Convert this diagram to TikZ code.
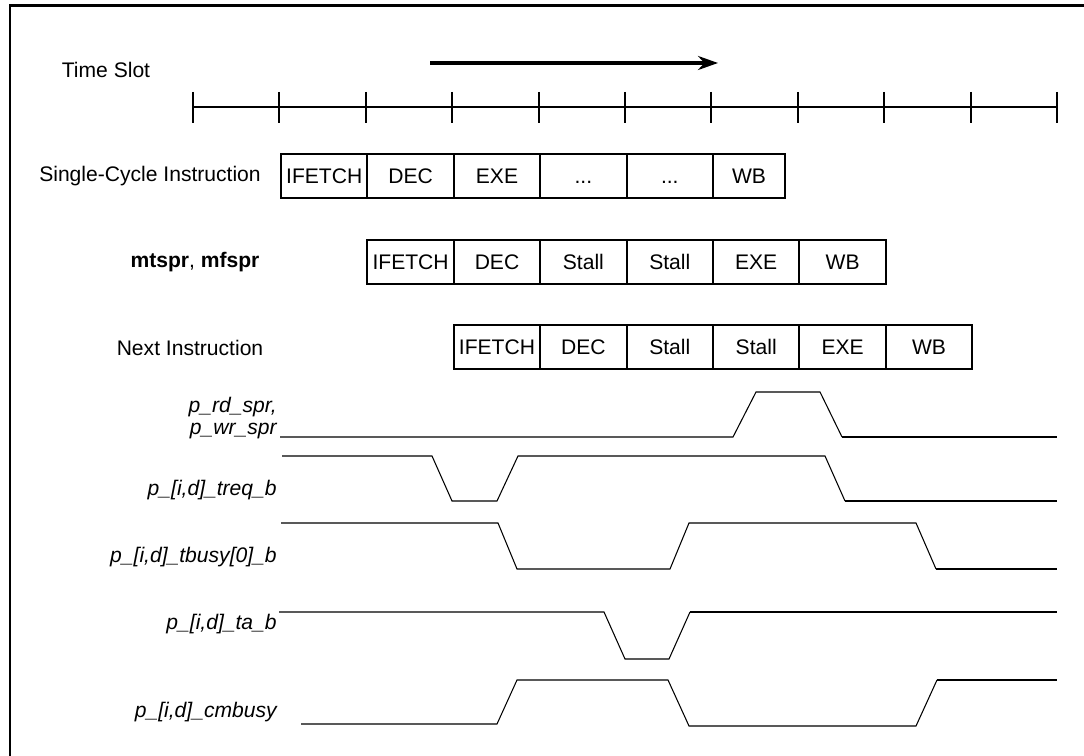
\documentclass[tikz,border=0pt]{standalone}
\usepackage{fontspec}
\setmainfont{Liberation Sans}
\usetikzlibrary{arrows.meta}
\tikzset{
  stage/.style={draw, line width=1.1pt, inner sep=0pt, minimum width=1.728cm,
                minimum height=0.88cm, text height=8.6pt, text depth=0pt,
                font=\fontsize{12}{14}\selectfont},
  rowlbl/.style={inner sep=0pt, font=\fontsize{12}{14}\selectfont},
  siglbl/.style={anchor=east, inner sep=0pt, align=right,
                 font=\fontsize{12}{12.6}\selectfont\itshape},
  sig/.style={line width=0.6pt},
  sigend/.style={line width=1.2pt},
  slottick/.style={line width=1.2pt},
}

\begin{document}
\begin{tikzpicture}[x=0.02cm, y=-0.02cm]
\useasboundingbox (0,0) rectangle (1084,756);
\draw[line width=1.7pt] (10,756) -- (10,6) -- (1084,6);

\node[rowlbl] (slot) at (106,70) {Time Slot};
\coordinate (t0) at (430,63);
\coordinate (t1) at (718,63);
\draw[line width=2pt, -{Stealth[length=0.4cm, width=0.28cm]}] (t0) -- (t1);
\draw[slottick] (193,107) -- (1057,107);
\foreach \k in {0,...,10}
  \draw[slottick] (193+86.4*\k,92) -- (193+86.4*\k,123);

\node[rowlbl] (single) at (150,176) {Single-Cycle Instruction};
\node[rowlbl] (mtspr)  at (195,262) {\textbf{mtspr}, \textbf{mfspr}};
\node[rowlbl] (next)   at (190,348) {Next Instruction};

\node[stage] (sc1) at (324.2,176) {IFETCH};
\node[stage] (sc2) at (410.6,176) {DEC};
\node[stage] (sc3) at (497,176)   {EXE};
\node[stage] (sc4) at (583.4,176) {...};
\node[stage] (sc5) at (669.8,176) {...};
\node[stage, minimum width=1.44cm] (sc6) at (749,176) {WB};

\node[stage] (mt1) at (410.6,262) {IFETCH};
\node[stage] (mt2) at (497,262)   {DEC};
\node[stage] (mt3) at (583.4,262) {Stall};
\node[stage] (mt4) at (669.8,262) {Stall};
\node[stage] (mt5) at (756.2,262) {EXE};
\node[stage] (mt6) at (842.6,262) {WB};

\node[stage] (nx1) at (497,347)   {IFETCH};
\node[stage] (nx2) at (583.4,347) {DEC};
\node[stage] (nx3) at (669.8,347) {Stall};
\node[stage] (nx4) at (756.2,347) {Stall};
\node[stage] (nx5) at (842.6,347) {EXE};
\node[stage] (nx6) at (929,347)   {WB};

\node[siglbl] (rdwr)  at (277,418) {p\_rd\_spr,\\p\_wr\_spr};
\node[siglbl] (treq)  at (277,490) {p\_[i,d]\_treq\_b};
\node[siglbl] (tbusy) at (277,557) {p\_[i,d]\_tbusy[0]\_b};
\node[siglbl] (ta)    at (277,624) {p\_[i,d]\_ta\_b};
\node[siglbl] (cmb)   at (277,712) {p\_[i,d]\_cmbusy};

\draw[sig] (280,437) -- (733,437) -- (756,392) -- (820,392) -- (842,437);
\draw[sigend] (842,437) -- (1057,437);
\draw[sig] (282,456) -- (432,456) -- (452,501) -- (497,501) -- (518,456)
  -- (825,456) -- (845,501);
\draw[sigend] (845,501) -- (1057,501);
\draw[sig] (281,523) -- (498,523) -- (517,569) -- (670,569) -- (689,523)
  -- (916,523) -- (936,569);
\draw[sigend] (936,569) -- (1057,569);
\draw[sig] (279,612) -- (604,612) -- (625,659) -- (669,659) -- (690,612);
\draw[sigend] (690,612) -- (1057,612);
\draw[sig] (301,724) -- (497,724) -- (517,680) -- (668,680) -- (689,726)
  -- (916,726) -- (937,680);
\draw[sigend] (937,680) -- (1057,680);
\end{tikzpicture}
\end{document}
